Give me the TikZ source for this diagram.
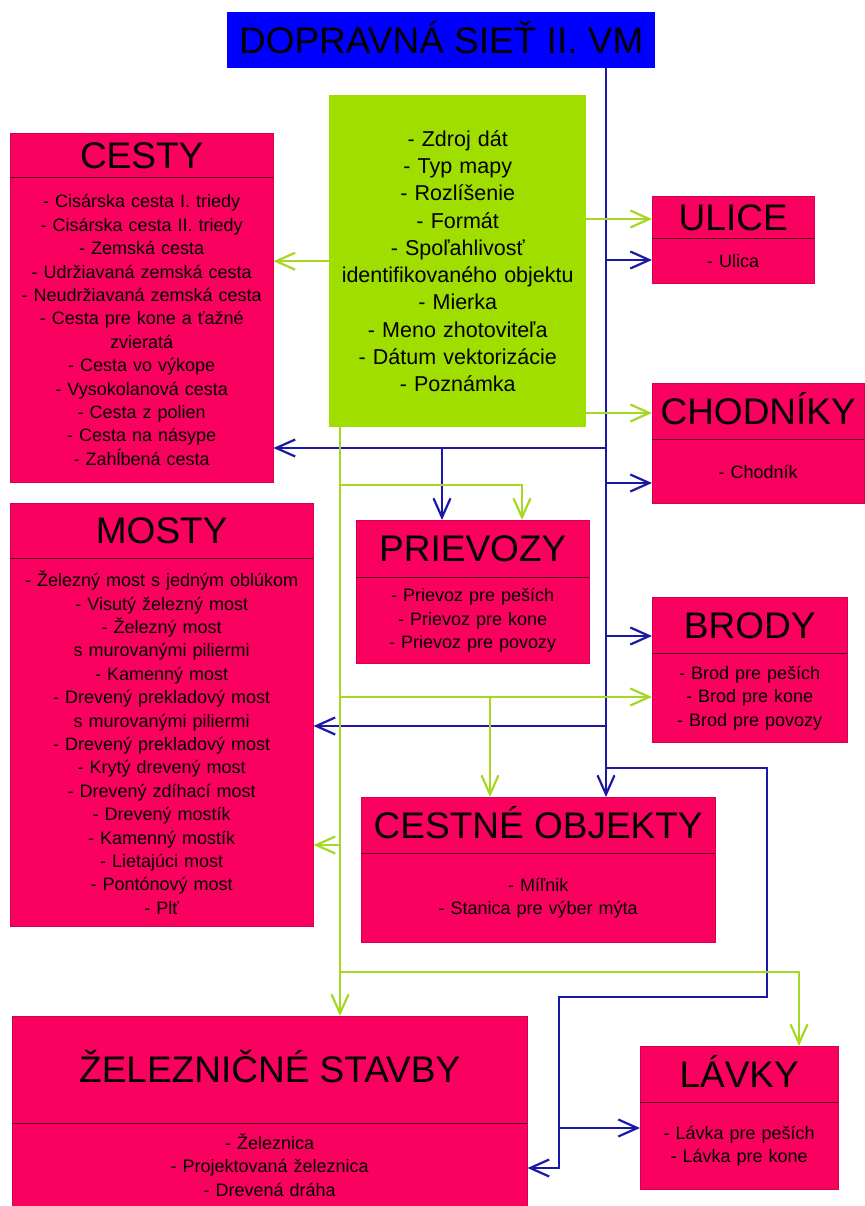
\documentclass[tikz,border=0pt]{standalone}
\usepackage{xcolor}
\usepackage{fontspec}
\setmainfont{Liberation Sans}
\usepackage{tikz}
\usetikzlibrary{arrows.meta}

\definecolor{hotpink}{RGB}{250,0,95}
\definecolor{limefill}{RGB}{160,222,0}
\definecolor{limewire}{RGB}{165,215,35}
\definecolor{navywire}{RGB}{25,25,165}
\definecolor{titleblue}{RGB}{0,0,255}
\definecolor{darkline}{RGB}{90,0,30}

\newcommand{\boxheadfont}{\fontsize{37}{40}\selectfont}
\newcommand{\boxlistfont}{\fontsize{18}{23.4}\selectfont}
\newcommand{\boxnotefont}{\fontsize{21.5}{27.3}\selectfont}

\begin{document}
\begin{tikzpicture}[x=1pt, y=-1pt,
    box/.style       = {fill=hotpink, draw=hotpink!85!black, line width=0.5pt, inner sep=0pt, anchor=north west},
    boxhead/.style   = {inner sep=0pt, anchor=north west, font=\boxheadfont, text height=26.5pt, text depth=0pt},
    itemlist/.style  = {inner sep=0pt, anchor=north west, align=center, font=\boxlistfont},
    divider/.style   = {draw=darkline, line width=1pt},
    bluewire/.style  = {draw=navywire, line width=2.2pt},
    greenwire/.style = {draw=limewire, line width=2.2pt},
    barb/.style      = {-{Straight Barb[length=19pt, width=17pt]}}]

% FRAME
  \useasboundingbox (0,0) rectangle (864,1206);

% TITLE
  \node[fill=titleblue, inner sep=0pt, anchor=north west, minimum width=428pt, minimum height=56pt,
        font=\boxheadfont, text height=26.5pt, text depth=0pt] (title) at (227,12) {DOPRAVNÁ SIEŤ II. VM};

% ATTRIBUTES (green)
  \node[fill=limefill, inner sep=0pt, anchor=north west, minimum width=257pt, minimum height=332pt,
        text width=257pt, align=center, font=\boxnotefont] (zdroj) at (329,95)
        {- Zdroj dát\\ - Typ mapy\\ - Rozlíšenie\\ - Formát\\ - Spoľahlivosť\\ identifikovaného objektu\\
         - Mierka\\ - Meno zhotoviteľa\\ - Dátum vektorizácie\\ - Poznámka};

% CESTY
  \node[box, minimum width=263pt, minimum height=349pt] (cesty) at (10,133) {};
  \node[boxhead, minimum width=263pt, minimum height=44pt] (cestyHead) at (10,133) {CESTY};
  \node[itemlist, text width=263pt, minimum height=305pt] (cestyList) at (cestyHead.south west)
        {- Cisárska cesta I. triedy\\ - Cisárska cesta II. triedy\\ - Zemská cesta\\ - Udržiavaná zemská cesta\\
         - Neudržiavaná zemská cesta\\ - Cesta pre kone a ťažné\\ zvieratá\\ - Cesta vo výkope\\
         - Vysokolanová cesta\\ - Cesta z polien\\ - Cesta na násype\\ - Zahĺbená cesta};
  \draw[divider] (cestyHead.south west) -- (cestyHead.south east);

% ULICE
  \node[box, minimum width=162pt, minimum height=87pt] (ulice) at (652,196) {};
  \node[boxhead, minimum width=162pt, minimum height=42pt] (uliceHead) at (652,196) {ULICE};
  \node[itemlist, text width=162pt, minimum height=45pt] (uliceList) at (uliceHead.south west) {- Ulica};
  \draw[divider] (uliceHead.south west) -- (uliceHead.south east);

% CHODNIKY
  \node[box, minimum width=212pt, minimum height=120pt] (chodniky) at (652,383) {};
  \node[boxhead, minimum width=212pt, minimum height=56pt] (chodnikyHead) at (652,383) {CHODNÍKY};
  \node[itemlist, text width=212pt, minimum height=64pt] (chodnikyList) at (chodnikyHead.south west) {- Chodník};
  \draw[divider] (chodnikyHead.south west) -- (chodnikyHead.south east);

% MOSTY
  \node[box, minimum width=303pt, minimum height=423pt] (mosty) at (10,503) {};
  \node[boxhead, minimum width=303pt, minimum height=55pt] (mostyHead) at (10,503) {MOSTY};
  \node[itemlist, text width=303pt, minimum height=368pt] (mostyList) at (mostyHead.south west)
        {- Železný most s jedným oblúkom\\ - Visutý železný most\\ - Železný most\\ s murovanými piliermi\\
         - Kamenný most\\ - Drevený prekladový most\\ s murovanými piliermi\\ - Drevený prekladový most\\
         - Krytý drevený most\\ - Drevený zdíhací most\\ - Drevený mostík\\ - Kamenný mostík\\
         - Lietajúci most\\ - Pontónový most\\ - Plť};
  \draw[divider] (mostyHead.south west) -- (mostyHead.south east);

% PRIEVOZY
  \node[box, minimum width=233pt, minimum height=143pt] (prievozy) at (356,520) {};
  \node[boxhead, minimum width=233pt, minimum height=57pt] (prievozyHead) at (356,520) {PRIEVOZY};
  \node[itemlist, text width=233pt, minimum height=86pt] (prievozyList) at (prievozyHead.south west)
        {- Prievoz pre peších\\ - Prievoz pre kone\\ - Prievoz pre povozy};
  \draw[divider] (prievozyHead.south west) -- (prievozyHead.south east);

% BRODY
  \node[box, minimum width=195pt, minimum height=145pt] (brody) at (652,597) {};
  \node[boxhead, minimum width=195pt, minimum height=56pt] (brodyHead) at (652,597) {BRODY};
  \node[itemlist, text width=195pt, minimum height=89pt] (brodyList) at (brodyHead.south west)
        {- Brod pre peších\\ - Brod pre kone\\ - Brod pre povozy};
  \draw[divider] (brodyHead.south west) -- (brodyHead.south east);

% CESTNE OBJEKTY
  \node[box, minimum width=354pt, minimum height=145pt] (cestne) at (361,797) {};
  \node[boxhead, minimum width=354pt, minimum height=56pt] (cestneHead) at (361,797) {CESTNÉ OBJEKTY};
  \node[itemlist, text width=354pt, minimum height=89pt] (cestneList) at (cestneHead.south west)
        {- Míľnik\\ - Stanica pre výber mýta};
  \draw[divider] (cestneHead.south west) -- (cestneHead.south east);

% ZELEZNICNE STAVBY
  \node[box, minimum width=515pt, minimum height=190pt] (zeleznice) at (12,1016) {};
  \node[boxhead, minimum width=515pt, minimum height=107pt] (zelezniceHead) at (12,1016) {ŽELEZNIČNÉ STAVBY};
  \node[itemlist, text width=515pt, minimum height=83pt] (zelezniceList) at (zelezniceHead.south west)
        {- Železnica\\ - Projektovaná železnica\\ - Drevená dráha};
  \draw[divider] (zelezniceHead.south west) -- (zelezniceHead.south east);

% LAVKY
  \node[box, minimum width=198pt, minimum height=143pt] (lavky) at (640,1046) {};
  \node[boxhead, minimum width=198pt, minimum height=56pt] (lavkyHead) at (640,1046) {LÁVKY};
  \node[itemlist, text width=198pt, minimum height=87pt] (lavkyList) at (lavkyHead.south west)
        {- Lávka pre peších\\ - Lávka pre kone};
  \draw[divider] (lavkyHead.south west) -- (lavkyHead.south east);

% BLUE LINES
  \coordinate (spine)   at (606,0);
  \coordinate (jUlice)  at (606,260);
  \coordinate (jCesty)  at (606,448);
  \coordinate (jPriev)  at (442,448);
  \coordinate (jChod)   at (606,483);
  \coordinate (jBrody)  at (606,636);
  \coordinate (jMosty)  at (606,726);
  \coordinate (jLoop)   at (606,768);
  \coordinate (bend)    at (767,997);
  \coordinate (drop)    at (559,997);
  \coordinate (jLavka)  at (559,1128);
  \coordinate (jZel)    at (559,1168);
  \draw[bluewire, barb] (title.south -| spine) -- (spine |- cestne.north);
  \draw[bluewire, barb] (jUlice) -- (jUlice -| ulice.west);
  \draw[bluewire, barb] (jCesty) -- (jCesty -| cesty.east);
  \draw[bluewire, barb] (jPriev) -- (jPriev |- prievozy.north);
  \draw[bluewire, barb] (jChod) -- (jChod -| chodniky.west);
  \draw[bluewire, barb] (jBrody) -- (jBrody -| brody.west);
  \draw[bluewire, barb] (jMosty) -- (jMosty -| mosty.east);
  \draw[bluewire, barb] (jLoop) -| (bend) -- (drop) -- (jZel) -- (jZel -| zeleznice.east);
  \draw[bluewire, barb] (jLavka) -- (jLavka -| lavky.west);

% GREEN LINES
  \coordinate (trunk)   at (340,0);
  \coordinate (gUlice)  at (586,219);
  \coordinate (gChod)   at (586,413);
  \coordinate (gPriev)  at (340,485);
  \coordinate (gPrievX) at (522,0);
  \coordinate (gBrody)  at (340,697);
  \coordinate (gCestne) at (490,697);
  \coordinate (gMosty)  at (340,845);
  \coordinate (gLavky)  at (340,972);
  \coordinate (gLavkyX) at (799,0);
  \draw[greenwire, barb] (zdroj.west) -- (zdroj.west -| cesty.east);
  \draw[greenwire, barb] (gUlice) -- (gUlice -| ulice.west);
  \draw[greenwire, barb] (gChod) -- (gChod -| chodniky.west);
  \draw[greenwire, barb] (zdroj.south -| trunk) -- (trunk |- zeleznice.north);
  \draw[greenwire, barb] (gPriev) -| (gPrievX |- prievozy.north);
  \draw[greenwire, barb] (gBrody) -- (gBrody -| brody.west);
  \draw[greenwire, barb] (gCestne) -- (gCestne |- cestne.north);
  \draw[greenwire, barb] (gMosty) -- (gMosty -| mosty.east);
  \draw[greenwire, barb] (gLavky) -| (gLavkyX |- lavky.north);

\end{tikzpicture}
\end{document}
